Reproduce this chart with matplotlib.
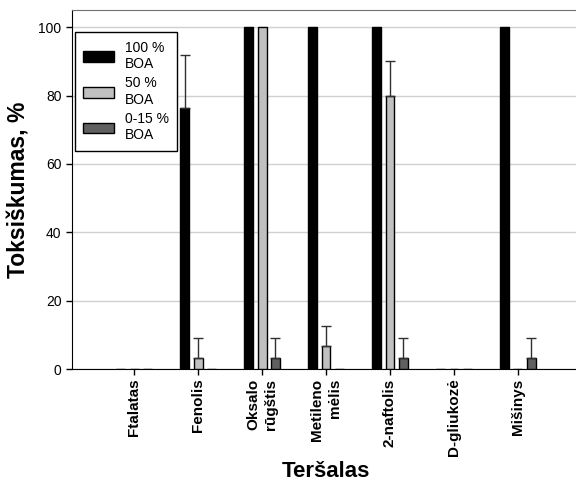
import numpy as np
import matplotlib
matplotlib.use("Agg")
import matplotlib.pyplot as plt

plt.rcParams['font.family'] = ['Liberation Sans', 'DejaVu Sans']

categories = ["Ftalatas", "Fenolis", "Oksalo\nrūgštis", "Metileno\nmėlis",
              "2-naftolis", "D-gliukozė", "Mišinys"]
series_labels = ["100 %\nBOA", "50 %\nBOA", "0-15 %\nBOA"]

boa_100 = [0, 76.5, 100, 100, 100, 0, 100]
boa_100_err = [0, 15.5, 0, 0, 0, 0, 0]
boa_50 = [0, 3.3, 100, 6.7, 80, 0, 0]
boa_50_err = [0, 5.8, 0, 5.8, 10, 0, 0]
boa_0_15 = [0, 0, 3.3, 0, 3.3, 0, 3.3]
boa_0_15_err = [0, 0, 5.8, 0, 5.8, 0, 5.8]

yticks = [0, 20, 40, 60, 80, 100]

fig = plt.figure(figsize=(5.76, 4.83), dpi=100)
ax = fig.add_axes([0.125, 0.236, 1.007 - 0.125, 0.979 - 0.236])

x = np.arange(len(categories))
width = 0.14
offset = 0.21
colors = ["#000000", "#c0c0c0", "#606060"]
series = [(boa_100, boa_100_err), (boa_50, boa_50_err), (boa_0_15, boa_0_15_err)]

for i, ((vals, errs), col, lab) in enumerate(zip(series, colors, series_labels)):
    xi = x + (i - 1) * offset
    vals = np.asarray(vals, float)
    errs = np.asarray(errs, float)
    ax.bar(xi, vals, width, color=col, edgecolor="black", linewidth=1.0,
           label=lab, zorder=3)
    m = errs > 0
    if m.any():
        ax.errorbar(xi[m], vals[m], yerr=[np.zeros(m.sum()), errs[m]],
                    fmt="none", ecolor="#303030", elinewidth=1.0,
                    capsize=3.5, capthick=1.0, zorder=4)

ax.set_xlim(-0.97, len(categories) - 1 + 0.97)
ax.set_ylim(0, 105)
ax.set_yticks(yticks)
ax.set_yticklabels([str(t) for t in yticks], fontsize=10)
ax.yaxis.grid(True, color="#d0d0d0", linewidth=1.0, zorder=0)
ax.set_axisbelow(True)

ax.set_xticks(x)
ax.set_xticklabels(categories, rotation=90, fontsize=11, fontweight="bold",
                   multialignment="right", va="top", ha="center",
                   linespacing=1.3)
ax.tick_params(axis="both", direction="out", length=4, width=1.0)
ax.tick_params(axis="x", pad=3)

ax.spines["top"].set_color("#707070")
ax.spines["right"].set_visible(False)
ax.spines["left"].set_color("black")
ax.spines["bottom"].set_color("black")

ax.set_ylabel("Toksiškumas, %", fontsize=16.5, fontweight="bold", labelpad=6)
ax.set_xlabel("Teršalas", fontsize=16, fontweight="bold", labelpad=3)

leg = ax.legend(loc="upper left", bbox_to_anchor=(0.006, 0.938),
                borderaxespad=0, fontsize=10, fancybox=False, framealpha=1,
                edgecolor="black", handlelength=2.2, handleheight=0.8,
                labelspacing=0.4, borderpad=0.6)
leg.get_frame().set_linewidth(1.0)

fig.savefig("out.png", dpi=100)
